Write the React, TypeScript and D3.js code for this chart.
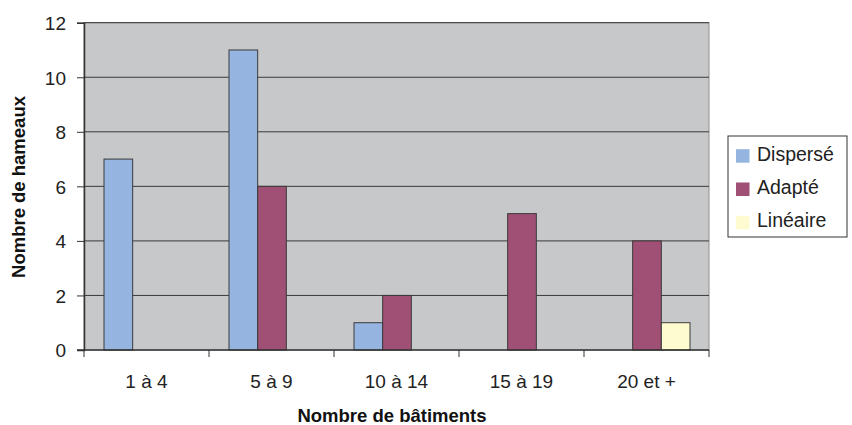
import * as d3 from 'd3';
import React, { useEffect, useRef } from 'react';

const categories = ['1 à 4', '5 à 9', '10 à 14', '15 à 19', '20 et +'];
const seriesNames = ['Dispersé', 'Adapté', 'Linéaire'];
const disperse = [7, 11, 1, 0, 0];
const adapte = [0, 6, 2, 5, 4];
const lineaire = [0, 0, 0, 0, 1];
const yTicks = [0, 2, 4, 6, 8, 10, 12];
const colors = ['#95B5E0', '#A04F75', '#FFFBD0'];

const App: React.FC = () => {
  const svgRef = useRef<SVGSVGElement>(null);
  const width = 852;
  const height = 425;

  useEffect(() => {
    if (!svgRef.current) return;
    const svg = d3.select(svgRef.current);
    svg.selectAll('*').remove();

    const left = 84, right = 709, top = 22.7, bottom = 350;
    const font = 'Liberation Sans, Arial, sans-serif';

    const x = d3.scaleBand().domain(categories).range([left, right]).padding(0);
    // three bars of ~28.7px centred in each 125px band
    const xs = d3.scaleBand().domain(seriesNames).range([20, x.bandwidth() - 19]).padding(0);
    const y = d3.scaleLinear().domain([0, 12]).range([bottom, top]);

    // plot background
    svg.append('rect')
      .attr('x', left).attr('y', top)
      .attr('width', right - left).attr('height', bottom - top)
      .attr('fill', '#C7C8CA')
      .attr('stroke', '#8E8E8E').attr('stroke-width', 1);

    // gridlines
    svg.append('g')
      .selectAll('line')
      .data(yTicks.filter(d => d > 0))
      .join('line')
      .attr('x1', left).attr('x2', right)
      .attr('y1', d => y(d)).attr('y2', d => y(d))
      .attr('stroke', '#3a3a3a').attr('stroke-width', 1);

    // bars
    const table = [disperse, adapte, lineaire];
    seriesNames.forEach((name, si) => {
      svg.append('g')
        .selectAll('rect')
        .data(table[si].map((v, i) => ({ cat: categories[i], v })).filter(d => d.v > 0))
        .join('rect')
        .attr('x', d => (x(d.cat) || 0) + (xs(name) || 0))
        .attr('y', d => y(d.v))
        .attr('width', xs.bandwidth())
        .attr('height', d => bottom - y(d.v))
        .attr('fill', colors[si])
        .attr('stroke', '#3a3a3a').attr('stroke-width', 1);
    });

    // y axis
    const yAxis = svg.append('g')
      .attr('transform', `translate(${left},0)`)
      .call(d3.axisLeft(y).tickValues(yTicks).tickSize(7).tickPadding(11).tickFormat(d3.format('d')));
    yAxis.select('.domain').attr('stroke', '#333').attr('stroke-width', 1.5);
    yAxis.selectAll('line').attr('stroke', '#333');
    yAxis.selectAll('text')
      .attr('font-family', font).attr('font-size', 19).attr('fill', '#222')
      .attr('dy', '0.36em');
    yAxis.attr('font-size', 19).attr('font-family', font);

    // x axis
    const xAxis = svg.append('g')
      .attr('transform', `translate(0,${bottom})`);
    xAxis.append('line')
      .attr('x1', left - 7).attr('x2', right)
      .attr('y1', 0).attr('y2', 0)
      .attr('stroke', '#333').attr('stroke-width', 1.5);
    xAxis.selectAll('line.tick')
      .data(d3.range(categories.length + 1))
      .join('line')
      .attr('class', 'tick')
      .attr('x1', i => left + i * x.step()).attr('x2', i => left + i * x.step())
      .attr('y1', 0).attr('y2', 7)
      .attr('stroke', '#333');
    xAxis.selectAll('text')
      .data(categories)
      .join('text')
      .attr('x', d => (x(d) || 0) + x.bandwidth() / 2)
      .attr('y', 38)
      .attr('text-anchor', 'middle')
      .attr('font-family', font).attr('font-size', 19).attr('fill', '#222')
      .text(d => d);

    // axis titles
    svg.append('text')
      .attr('x', 392).attr('y', 422)
      .attr('text-anchor', 'middle')
      .attr('font-family', font).attr('font-size', 18.5).attr('font-weight', 'bold').attr('fill', '#111')
      .text('Nombre de bâtiments');

    svg.append('text')
      .attr('transform', `translate(25, 187) rotate(-90)`)
      .attr('text-anchor', 'middle')
      .attr('font-family', font).attr('font-size', 18.5).attr('font-weight', 'bold').attr('fill', '#111')
      .text('Nombre de hameaux');

    // legend
    const legend = svg.append('g').attr('transform', 'translate(728,136)');
    legend.append('rect')
      .attr('width', 119).attr('height', 101)
      .attr('fill', '#fff').attr('stroke', '#333').attr('stroke-width', 1);
    seriesNames.forEach((name, i) => {
      const row = legend.append('g').attr('transform', `translate(0, ${24.7 + i * 33.3})`);
      row.append('rect')
        .attr('x', 8).attr('y', -11.5).attr('width', 13.5).attr('height', 13.5)
        .attr('fill', colors[i]);
      row.append('text')
        .attr('x', 29).attr('y', 0)
        .attr('font-family', font).attr('font-size', 19.5).attr('fill', '#222')
        .text(name);
    });
  }, []);

  return (
    <svg
      ref={svgRef}
      width={width}
      height={height}
      style={{ position: 'absolute', left: 0, top: 0, background: '#fff' }}
    />
  );
};

export default App;
